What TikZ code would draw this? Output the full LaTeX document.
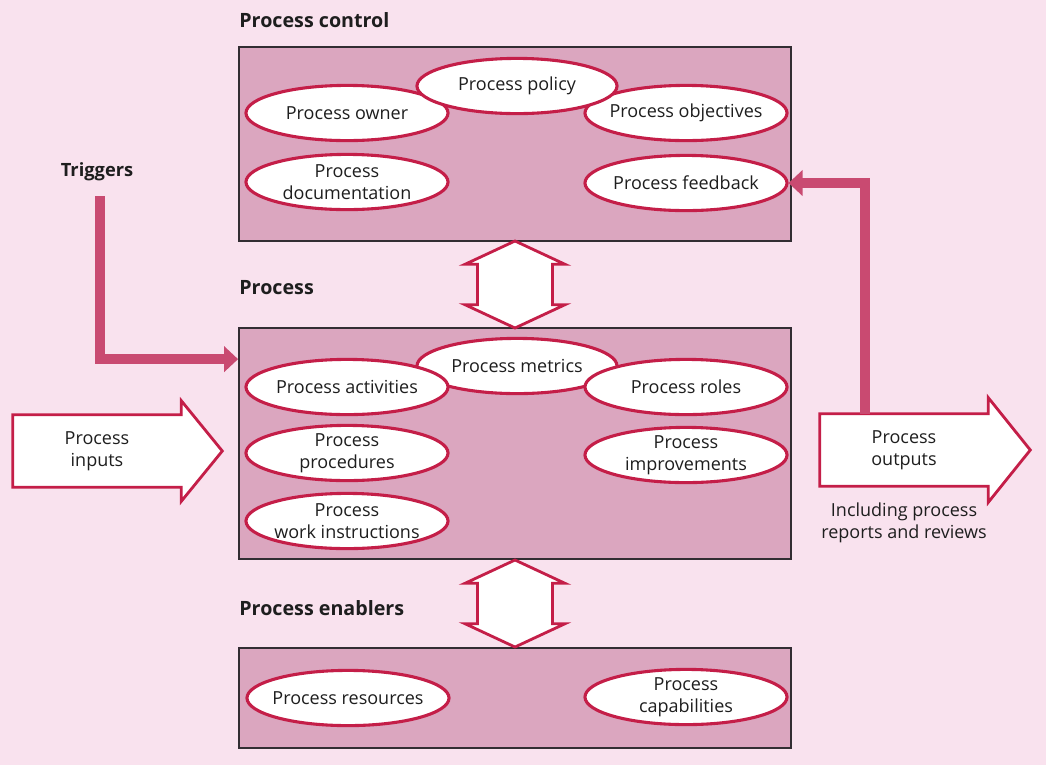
\documentclass[tikz,border=0pt]{standalone}
\usepackage{fontspec}
\setmainfont{Open Sans}
\usepackage{tikz}
\usetikzlibrary{shapes.geometric,shapes.arrows,arrows.meta,positioning,calc,backgrounds}

\definecolor{bgpink}{RGB}{249,226,238}
\definecolor{boxpink}{RGB}{219,166,191}
\definecolor{rimred}{RGB}{196,30,72}
\definecolor{flowred}{RGB}{201,74,113}
\definecolor{edgegray}{RGB}{50,45,50}
\definecolor{inkgray}{RGB}{30,30,30}

\begin{document}
\begin{tikzpicture}[
  x=0.025cm, y=-0.025cm,
  every node/.style={font=\fontsize{12.8}{15.5}\selectfont, text=inkgray},
  ttl/.style={font=\fontsize{14}{16}\selectfont\bfseries, inner sep=0pt, anchor=base west},
  group/.style={rectangle, draw=edgegray, line width=1.2pt, fill=boxpink, minimum width=13.8cm},
  elem/.style={ellipse, draw=rimred, line width=2.2pt, fill=white, minimum width=5.05cm, minimum height=1.38cm, inner sep=0pt, inner xsep=-7pt, align=center},
  link/.style={double arrow, draw=rimred, line width=2pt, fill=white, rotate=90, minimum height=2.175cm, minimum width=2.425cm, inner sep=0pt, inner ysep=0.9cm, double arrow head extend=0.3125cm, double arrow tip angle=130},
  iobody/.style={rectangle, minimum width=4.2cm, minimum height=1.8cm, align=center, inner sep=0pt},
  bigarrow/.style={draw=rimred, line width=2pt, fill=white, line join=miter},
  flow/.style={draw=flowred, line width=7pt, -{Triangle[length=10pt,width=18pt]}}
]
\useasboundingbox (0,0) rectangle (1046,765);

% the three groups
\node[group, minimum height=4.85cm] (ctrl) at (515,144) {};
\node[group, minimum height=5.775cm] (proc) at (515,443.5) {};
\node[group, minimum height=2.5cm] (enab) at (515,698) {};

\node[ttl] (ctrlttl) at ($(ctrl.north west)+(1,-19)$) {Process control};
\node[ttl] (procttl) at ($(proc.north west)+(1,-33)$) {Process};
\node[ttl] (enabttl) at ($(enab.north west)+(1,-32)$) {Process enablers};

% process control
\node[elem] (owner) at (347,113) {Process owner};
\node[elem] (objectives) at (686,113) {Process objectives};
\node[elem, minimum width=5cm] (policy) at (517,86) {Process policy};
\node[elem] (docs) at (347,182) {Process\\documentation};
\node[elem] (feedback) at (686,183) {Process feedback};

% process
\node[elem, minimum width=5cm] (metrics) at (517,366) {Process metrics};
\node[elem] (activities) at (347,387) {Process activities};
\node[elem] (roles) at (686,387) {Process roles};
\node[elem] (procedures) at (347,453) {Process\\procedures};
\node[elem] (improve) at (686,455) {Process\\improvements};
\node[elem] (workinstr) at (347,521) {Process\\work instructions};

% process enablers
\node[elem] (resources) at (348,698) {Process resources};
\node[elem] (capab) at (686,697) {Process\\capabilities};

% links between groups
\node[link] (ctrlproc) at ($(ctrl.south)!0.5!(proc.north)$) {};
\node[link] (procenab) at ($(proc.south)!0.5!(enab.north)$) {};

% inputs, outputs, triggers
\node[iobody] (inputs) at (97,451) {Process\\inputs};
\node[iobody] (outputs) at (904,450) {Process\\outputs};
\node[below=0.3cm of outputs, align=center] (reports) {Including process\\reports and reviews};
\node[font=\fontsize{13}{15}\selectfont\bfseries] (trig) at (97,172) {Triggers};

\begin{scope}[on background layer]
\fill[bgpink] (0,0) rectangle (1046,765);
\draw[bigarrow] (inputs.south west) -- (inputs.north west) -- (inputs.north east) -- ++(0,-14)
  -- ($(inputs.east)+(41,0)$) -- ($(inputs.south east)+(0,14)$) -- (inputs.south east) -- cycle;
\draw[bigarrow] (outputs.south west) -- (outputs.north west) -- (outputs.north east) -- ++(0,-16)
  -- ($(outputs.east)+(42,0)$) -- ($(outputs.south east)+(0,16)$) -- (outputs.south east) -- cycle;
\end{scope}

\draw[flow] ($(trig.south)+(3,10)$) |- ($(proc.north west)+(0,32)$);
\draw[flow] ($(outputs.north)+(-39,0)$) |- (feedback.east);
\end{tikzpicture}
\end{document}
